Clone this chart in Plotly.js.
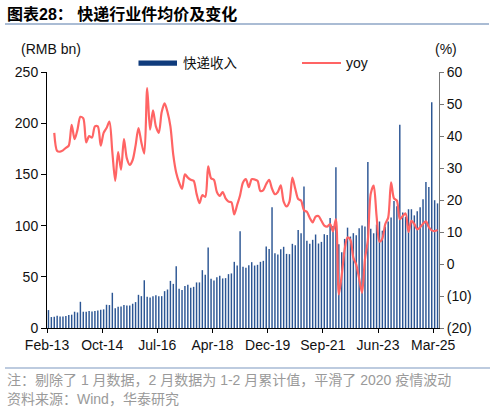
<!DOCTYPE html>
<html><head><meta charset="utf-8">
<script src="https://cdn.plot.ly/plotly-3.0.1.min.js"></script>
<style>html,body{margin:0;padding:0;background:#fff;}#chart{width:495px;height:412px;}</style>
</head><body><div id="chart"></div>
<script>
// ---- data ----
const years = [13,14,15,16,17,18,19,20,21,22,23,24,25];
const monthNames = ['Feb','Mar','Apr','May','Jun','Jul','Aug','Sep','Oct','Nov','Dec']; // January excluded
const lastMonth = 'Apr-25';
const months = [];
for (const y of years) { for (const m of monthNames) { const lab = m + '-' + y; if (months.length && months[months.length-1] === lastMonth) break; months.push(lab); } }

// express revenue, RMB bn (Feb = Jan-Feb cumulative)
const revenue = [
  17.5,10.7,11.0,12.0,11.3,11.3,11.7,12.6,13.0,15.9,15.2,
  25.6,15.9,15.9,16.5,16.2,16.5,17.2,17.8,18.2,22.7,22.4,
  34.4,19.4,20.8,21.0,22.4,22.0,22.0,23.7,25.3,32.4,31.1,
  46.7,30.5,29.9,31.1,32.1,31.1,31.1,36.0,37.6,46.0,43.1,
  60.3,38.3,37.0,40.9,42.2,39.3,40.2,44.5,44.5,56.5,52.0,
  78.6,48.0,46.4,49.6,51.0,48.4,48.7,52.6,53.3,64.6,61.0,
  94.4,59.7,58.8,61.4,64.3,61.0,61.7,64.6,65.6,79.6,77.2,
  118.0,73.0,71.8,77.0,79.3,72.4,72.1,82.2,80.9,95.8,92.5,
  138.3,85.1,82.2,86.1,91.3,82.5,84.1,91.6,90.9,107.5,99.7,
  157.0,81.9,74.0,87.0,98.0,89.3,92.6,90.6,97.5,100.0,99.0,
  162.0,97.0,92.5,101.0,104.0,95.0,99.0,104.0,108.0,124.0,119.0,
  198.5,112.8,108.5,116.0,116.0,110.0,114.0,118.0,125.7,142.6,137.6,
  220.5,124.8,121.7
];
// yoy, %
const yoy = [
  null,null,41,35.3,35.1,35.5,36.3,37,43.5,39,42,
  46,45.5,38,40,39.5,43,43,37,41,42.5,44.5,
  35,26,35,29.5,39,33,31,32.5,37,42.5,38,
  34.5,55,42,48,43,41,47.5,50.2,47.5,43,34,
  28.5,25.5,23.5,28,27,26.3,26,22,19,21.5,21,
  30.5,26.8,26.3,22.5,21.3,22.5,20.5,19.5,19.3,15.5,18.5,
  21.5,25.5,26.5,24,26.5,26.4,26,22.8,23.1,25,26.3,
  23.5,21.8,22.5,24.6,19.5,18,19.5,27,23.5,20.3,19.8,
  16.8,16.3,14.4,13,14.8,15,13.5,12,11.7,12.5,10.2,
  14,-9.5,-3.5,4.5,8.3,7.5,2,-0.2,-4.5,-9,1.5,
  7.5,22,24.5,15,7,8,12.5,14.5,25.5,20.5,19.8,
  14,15,15.8,10,13.5,12.5,10.8,11.5,12.6,13.3,11.5,
  10.5,10.3,10.6
];
const tickLabels = ['Feb-13','Oct-14','Jul-16','Apr-18','Dec-19','Sep-21','Jun-23','Mar-25'];
const leftTicks = [0,50,100,150,200,250];
const rightTicks = [-20,-10,0,10,20,30,40,50,60];
const rightTickText = ['(20)','(10)','0','10','20','30','40','50','60'];

// ---- chart ----
const BAR = '#2C5694', NAVY = '#0F3B7C', RED = '#FF6464';
const LAT = 'Liberation Sans, Arial, sans-serif';
const CJK = 'Liberation Sans, Noto Sans CJK SC, sans-serif';
const idx = months.map((_, i) => i);
const L = 47, R = 439, T = 72, B = 328;
const px = v => (v - L) / (R - L);
const py = v => (B - v) / (B - T);

const traces = [
  {type:'bar', x: idx, y: revenue, yaxis:'y', marker:{color: BAR, line:{width:0}}, hoverinfo:'skip'},
  {type:'scatter', mode:'lines', x: idx, y: yoy, yaxis:'y2', line:{color: RED, width:2.2, shape:'spline', smoothing:0.8}, hoverinfo:'skip'}
];

const ann = (x, y, text, size, color, extra) => Object.assign({xref:'paper', yref:'paper', x: px(x), y: py(y), text, showarrow:false, xanchor:'left', yanchor:'middle', font:{family: CJK, size, color}}, extra || {});

const layout = {
  width: 495, height: 412,
  margin: {l: L, r: 495 - R, t: T, b: 412 - B},
  paper_bgcolor:'#fff', plot_bgcolor:'#fff',
  showlegend: false, bargap: 0.5,
  xaxis: {range:[-0.5, months.length - 0.5], tickmode:'array',
    tickvals: tickLabels.map(l => months.indexOf(l) - 0.5), ticktext: tickLabels,
    ticks:'outside', ticklen:4, tickcolor:'#000', showline:true, linecolor:'#000', linewidth:1,
    showgrid:false, zeroline:false, ticklabelshift: 1.5,
    tickfont:{family: LAT, size:14, color:'#111'}},
  yaxis: {range:[0,250], tickmode:'array', tickvals: leftTicks, ticks:'outside', ticklen:5, tickcolor:'#000',
    showline:true, linecolor:'#000', linewidth:1, showgrid:false, zeroline:false,
    tickfont:{family: LAT, size:14, color:'#111'}},
  yaxis2: {overlaying:'y', side:'right', range:[-20,60], tickmode:'array', tickvals: rightTicks, ticktext: rightTickText,
    ticks:'outside', ticklen:4, tickcolor:'#777', showline:true, linecolor:'#777', linewidth:1,
    showgrid:false, zeroline:false, tickfont:{family: LAT, size:14, color:'#111'}},
  shapes: [
    {type:'line', xref:'paper', yref:'paper', x0: px(5), x1: px(489), y0: py(24), y1: py(24), line:{color:'#8EA6C6', width:1.5}},
    {type:'line', xref:'paper', yref:'paper', x0: px(5), x1: px(490), y0: py(368), y1: py(368), line:{color:'#A7BAD4', width:1.5}},
    {type:'rect', xref:'paper', yref:'paper', x0: px(138.5), x1: px(177), y0: py(60.5), y1: py(65.7), fillcolor: NAVY, line:{width:0}},
    {type:'line', xref:'paper', yref:'paper', x0: px(302), x1: px(341), y0: py(63), y1: py(63), line:{color: RED, width:2.2}}
  ],
  annotations: [
    ann(5, 13.5, '<b>图表28： 快递行业件均价及变化</b>', 16, '#000'),
    ann(19, 49, '(RMB bn)', 14, '#111'),
    ann(433, 49, '(%)', 14, '#111'),
    ann(181, 63, '快递收入', 13.5, '#111'),
    ann(344, 63, 'yoy', 14, '#111'),
    ann(5, 379.5, '注：剔除了 1 月数据，2 月数据为 1-2 月累计值，平滑了 2020 疫情波动', 14, '#9a9a9a'),
    ann(5, 399, '资料来源：Wind，华泰研究', 14, '#9a9a9a')
  ]
};
Plotly.newPlot('chart', traces, layout, {staticPlot:true, displayModeBar:false});
</script></body></html>
